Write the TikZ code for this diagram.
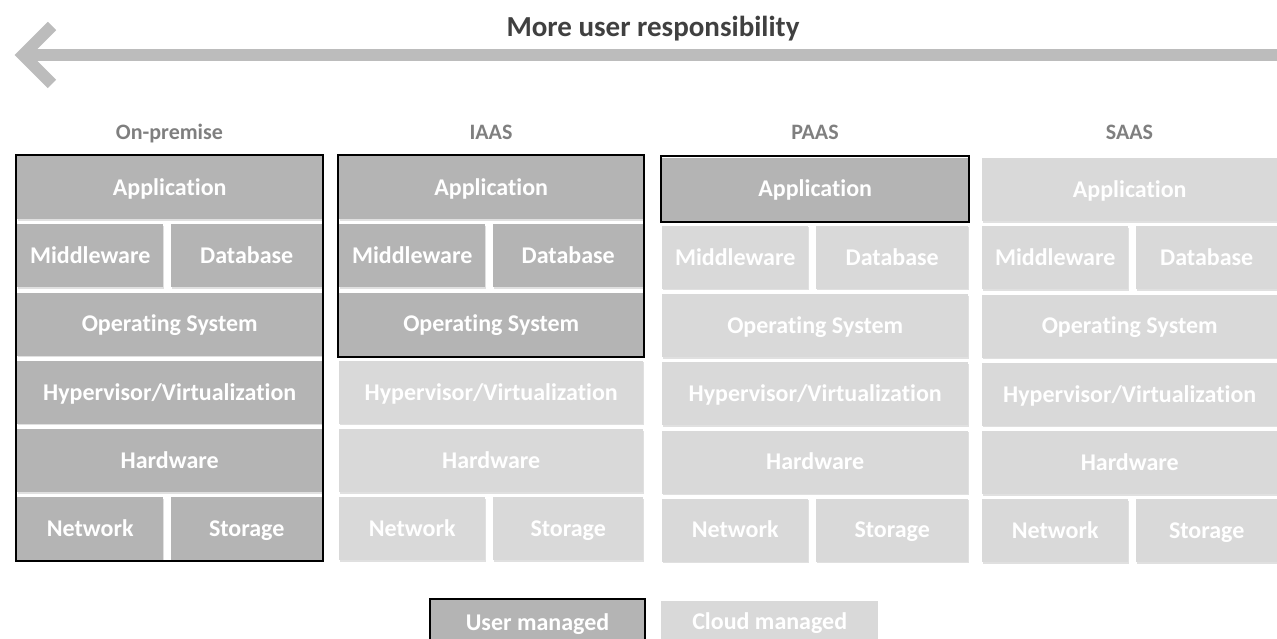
\documentclass[tikz,border=0pt]{standalone}
\usepackage{fontspec}
\setmainfont{Carlito}[Ligatures=NoCommon]
\usetikzlibrary{shadows,fit}
\definecolor{userc}{HTML}{B4B4B4}
\definecolor{cloudc}{HTML}{D9D9D9}
\definecolor{arrowc}{HTML}{BCBCBC}
\definecolor{titlec}{HTML}{404040}
\definecolor{headc}{HTML}{7F7F7F}
\tikzset{
  blk/.style={draw=none, inner sep=0pt, anchor=north west, text=white,
    font=\bfseries\fontsize{24}{28}\selectfont, minimum height=63pt,
    text height=15.5pt, text depth=0pt,
    drop shadow={shadow xshift=1.2pt, shadow yshift=-1.5pt, opacity=0.12, fill=black}},
  frm/.style={draw=black, line width=2pt, fill=none, inner sep=1pt},
  head/.style={text=headc, anchor=base, font=\bfseries\fontsize{22}{26}\selectfont},
  titletext/.style={text=titlec, anchor=base, font=\bfseries\fontsize{29}{34}\selectfont},
  arrowline/.style={draw=arrowc, line width=12pt},
  legbox/.style={inner sep=0pt, anchor=north west, text=white,
    font=\bfseries\fontsize{24}{28}\selectfont, minimum height=48pt,
    text height=15.5pt, text depth=0pt}
}
\begin{document}
\begin{tikzpicture}[x=1pt,y=-1pt]
\useasboundingbox (0,0) rectangle (1277,639);
% arrow
\coordinate (arrowend) at (1290,55);
\coordinate (arrowtip) at (23,55);
\coordinate (armup) at (52,26);
\coordinate (armdown) at (52,84);
\draw[arrowline] (arrowend) -- (arrowtip);
\draw[arrowline, line join=miter] (armup) -- (arrowtip) -- (armdown);
\node[titletext] (title) at (653,37) {More user responsibility};
% columns
\foreach \c/\x/\w/\dy/\n/\hd in {1/17/305/0/6/On-premise, 2/339/304/0/3/IAAS, 3/662/306/1.5/1/PAAS, 4/982/295/2/0/SAAS}{
  \pgfmathsetmacro\wb{\w-154}
  \pgfmathsetmacro\xb{\x+154}
  \pgfmathsetmacro\xc{\x+\w/2}
  \pgfmathsetmacro\yA{156+\dy}
  \pgfmathsetmacro\yB{156+68.2+\dy}
  \pgfmathsetmacro\yC{156+2*68.2+\dy}
  \pgfmathsetmacro\yD{156+3*68.2+\dy}
  \pgfmathsetmacro\yE{156+4*68.2+\dy}
  \pgfmathsetmacro\yF{156+5*68.2+\dy}
  \edef\fA{\ifnum\n<1 cloudc\else userc\fi}
  \edef\fB{\ifnum\n<2 cloudc\else userc\fi}
  \edef\fC{\ifnum\n<3 cloudc\else userc\fi}
  \edef\fD{\ifnum\n<4 cloudc\else userc\fi}
  \edef\fE{\ifnum\n<5 cloudc\else userc\fi}
  \edef\fF{\ifnum\n<6 cloudc\else userc\fi}
  \node[head] (head\c) at (\xc,140) {\hd};
  \node[blk, fill=\fA, minimum width=\w pt] (app\c) at (\x,\yA) {Application};
  \node[blk, fill=\fB, minimum width=146pt] (mid\c) at (\x,\yB) {Middleware};
  \node[blk, fill=\fB, minimum width=\wb pt] (db\c) at (\xb,\yB) {Database};
  \node[blk, fill=\fC, minimum width=\w pt] (os\c) at (\x,\yC) {Operating System};
  \node[blk, fill=\fD, minimum width=\w pt] (hyp\c) at (\x,\yD) {Hypervisor/Virtualization};
  \node[blk, fill=\fE, minimum width=\w pt] (hw\c) at (\x,\yE) {Hardware};
  \node[blk, fill=\fF, minimum width=146pt] (net\c) at (\x,\yF) {Network};
  \node[blk, fill=\fF, minimum width=\wb pt] (sto\c) at (\xb,\yF) {Storage};
}
% user-managed frames
\node[frm, fit=(app1)(net1)(sto1)] (frame1) {};
\node[frm, fit=(app2)(os2)] (frame2) {};
\node[frm, fit=(app3)] (frame3) {};
% legend
\node[legbox, fill=userc, draw=black, line width=2pt, minimum width=215pt] (leguser) at (429,598) {User managed};
\node[legbox, fill=cloudc, minimum width=217pt, minimum height=42pt] (legcloud) at (661,601) {Cloud managed};
\end{tikzpicture}
\end{document}
